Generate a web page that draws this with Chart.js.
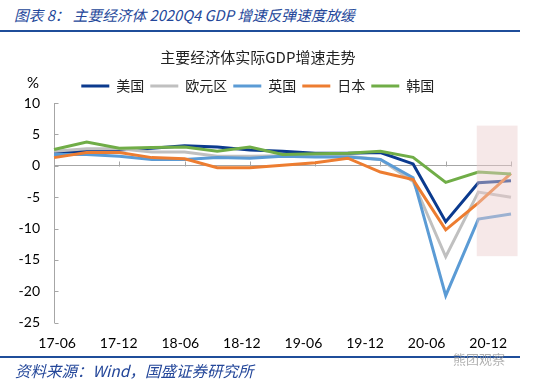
<!DOCTYPE html>
<html><head><meta charset="utf-8">
<script src="https://cdn.jsdelivr.net/npm/chart.js@4"></script>
<style>
html,body{margin:0;padding:0;background:#fff;width:550px;height:380px;overflow:hidden;position:relative;font-family:"Noto Sans CJK SC",sans-serif}
#hdr{position:absolute;left:14px;top:4px;font-size:14.7px;font-style:italic;color:#24479a;white-space:nowrap}
.rule{position:absolute;left:0;width:520px;height:2px;background:#1f4e9a}
#wrap{position:absolute;left:0;top:40px;width:520px;height:324px}
#pct{position:absolute;left:27px;top:73px;font-size:15px;font-family:Lato,sans-serif;color:#000}
#src{position:absolute;left:15px;top:359px;font-size:15.5px;font-style:italic;color:#24479a;white-space:nowrap}
#wm{position:absolute;left:453px;top:349px;font-size:13px;color:rgba(150,150,150,0.75);white-space:nowrap}
</style></head>
<body>
<div id="hdr">图表 8：&nbsp;主要经济体 2020Q4 GDP 增速反弹速度放缓</div>
<div class="rule" style="top:30px"></div>
<div id="wrap"><canvas id="c"></canvas></div>
<div id="pct">%</div>
<div class="rule" style="top:356px"></div>
<div id="src">资料来源：Wind，国盛证券研究所</div>
<div id="wm">熊团观察</div>
<script>
const categories = ['17-06','17-09','17-12','18-03','18-06','18-09','18-12','19-03','19-06','19-09','19-12','20-03','20-06','20-09','20-12'];
const tickLabels = ['17-06','17-12','18-06','18-12','19-06','19-12','20-06','20-12'];
const seriesNames = ['美国','欧元区','英国','日本','韩国'];
const usValues    = [2.2, 2.3, 2.5, 2.8, 3.2, 3.0, 2.5, 2.3, 2.0, 2.0, 2.1, 0.3, -8.9, -2.7, -2.4];
const euroValues  = [2.3, 2.7, 2.7, 2.2, 2.2, 1.5, 1.5, 1.6, 1.5, 1.5, 1.0, -2.5, -14.5, -4.2, -5.0];
const ukValues    = [1.8, 1.8, 1.5, 1.0, 1.0, 1.3, 1.2, 1.5, 1.4, 1.4, 1.0, -1.9, -20.7, -8.5, -7.7];
const japanValues = [1.3, 2.1, 2.1, 1.3, 1.1, -0.3, -0.3, 0.1, 0.5, 1.2, -1.0, -2.2, -10.2, -5.9, -1.2];
const koreaValues = [2.6, 3.8, 2.8, 2.9, 3.0, 2.3, 3.0, 1.8, 1.9, 2.0, 2.3, 1.35, -2.65, -1.0, -1.3];
const yTicks = {min: -25, max: 10, step: 5};
const highlightX = [12.95, 14.2];   // category-index span of the shaded box
const highlightY = [6.4, -14.4];    // value span of the shaded box
const labelAxisRange = [-0.05, 7.37];

const allValues = [usValues, euroValues, ukValues, japanValues, koreaValues];
const colors = ['#0b3a8e', '#c0c0c0', '#5b9bd5', '#ed7d31', '#70ad47'];

const tickMarkPlugin = {
  id: 'tickMarks',
  beforeDatasetsDraw(chart) {
    const {ctx, scales: {x, y}} = chart;
    ctx.save();
    ctx.strokeStyle = '#a6a6a6'; ctx.lineWidth = 1;
    ctx.beginPath();
    const ax = Math.round(x.left) + 0.5;
    y.ticks.forEach(t => { const py = Math.round(y.getPixelForValue(t.value)) + 0.5; ctx.moveTo(ax, py); ctx.lineTo(ax + 4, py); });
    const zy = Math.round(y.getPixelForValue(0)) + 0.5;
    categories.forEach((c, i) => { if (i > 0 && i % 2 === 0) { const px = Math.round(x.getPixelForValue(i)) + 0.5; ctx.moveTo(px, zy); ctx.lineTo(px, zy - 5); } });
    ctx.stroke();
    ctx.restore();
  }
};

const highlightPlugin = {
  id: 'highlight',
  afterDatasetsDraw(chart) {
    const {ctx, scales: {x, y}} = chart;
    const x0 = x.getPixelForValue(highlightX[0]), x1 = x.getPixelForValue(highlightX[1]);
    const y0 = y.getPixelForValue(highlightY[0]), y1 = y.getPixelForValue(highlightY[1]);
    ctx.save();
    ctx.fillStyle = 'rgba(236,205,205,0.45)';
    ctx.fillRect(x0, y0, x1 - x0, y1 - y0);
    ctx.restore();
  }
};

new Chart(document.getElementById('c'), {
  type: 'line',
  data: {
    labels: categories,
    datasets: seriesNames.map((n, i) => ({
      label: n, data: allValues[i], borderColor: colors[i], backgroundColor: colors[i],
      borderWidth: 3, pointRadius: 0, tension: 0, order: 5 - i, xAxisID: 'x', yAxisID: 'y',
      pointStyle: 'line'
    }))
  },
  options: {
    responsive: true, maintainAspectRatio: false, animation: false, devicePixelRatio: 1,
    layout: {padding: {left: 4.6, right: 9, top: 0, bottom: 0.5}},
    plugins: {
      title: {display: true, text: '主要经济体实际GDP增速走势', color: '#222',
        font: {size: 15, family: '"Noto Sans CJK SC"', weight: 'normal'}, padding: {top: 8, bottom: 7}},
      legend: {display: true, position: 'top',
        labels: {usePointStyle: true, pointStyle: 'line', pointStyleWidth: 28, padding: 6, color: '#222',
          font: {size: 14, family: '"Noto Sans CJK SC"'},
          sort: (a, b) => a.datasetIndex - b.datasetIndex}},
      tooltip: {enabled: false}
    },
    scales: {
      x: {type: 'category', position: {y: 0}, offset: false,
        ticks: {display: false},
        grid: {display: false, drawTicks: false},
        border: {display: true, color: '#a6a6a6', width: 1}},
      xl: {type: 'linear', position: 'bottom', min: labelAxisRange[0], max: labelAxisRange[1],
        afterBuildTicks: s => { s.ticks = tickLabels.map((_, i) => ({value: i})); },
        ticks: {callback: v => tickLabels[v], color: '#000', font: {size: 14, family: 'Lato'},
          padding: 12, autoSkip: false, maxRotation: 0},
        grid: {display: false, drawTicks: false}, border: {display: false}},
      y: {type: 'linear', min: yTicks.min, max: yTicks.max,
        ticks: {stepSize: yTicks.step, color: '#000', font: {size: 14, family: 'Lato'}, padding: 14},
        grid: {display: false, drawTicks: false},
        border: {display: true, color: '#a6a6a6', width: 1}}
    }
  },
  plugins: [tickMarkPlugin, highlightPlugin]
});
</script>
</body></html>
